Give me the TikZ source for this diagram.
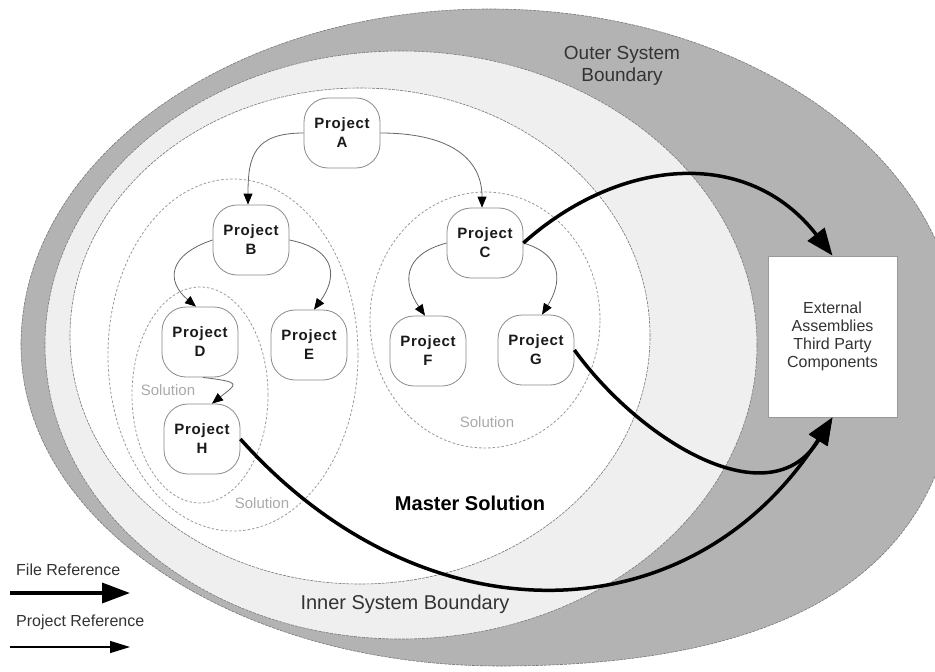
\documentclass[tikz,border=0pt]{standalone}
\usepackage{fontspec}
\setmainfont{Liberation Sans}
\newfontfamily\projfont{Liberation Sans}[LetterSpace=5]
\usetikzlibrary{arrows.meta}
\definecolor{outergray}{HTML}{B3B3B3}
\definecolor{innergray}{HTML}{EFEFEF}
\definecolor{rimline}{HTML}{777777}
\definecolor{solline}{HTML}{9A9A9A}
\definecolor{soltext}{HTML}{AAAAAA}
\definecolor{projline}{HTML}{8A8A8A}
\definecolor{labeltext}{HTML}{333333}
\begin{document}
\begin{tikzpicture}[x=1pt,y=1pt,
  rim/.style={draw=rimline, line width=0.6pt, dash pattern=on 3pt off 1pt},
  solring/.style={draw=solline, line width=0.8pt, dash pattern=on 2.5pt off 2pt},
  project/.style={draw=projline, fill=white, line width=0.8pt, rounded corners=24pt,
    minimum width=76pt, minimum height=70pt, align=center, inner sep=0pt, text=black!90,
    font=\projfont\bfseries\fontsize{15}{19}\selectfont},
  projref/.style={draw=black!60, line width=0.8pt, -{Triangle[length=11pt,width=9pt,color=black]}},
  fileref/.style={draw=black, line width=3.5pt, -{Triangle[length=27pt,width=21pt]}},
  soltag/.style={text=soltext, inner sep=0pt, font=\fontsize{15}{18}\selectfont},
  boundtag/.style={text=labeltext, align=center, inner sep=0pt, font=\fontsize{19}{22}\selectfont},
  legendtag/.style={anchor=west, text=labeltext, inner sep=0pt, font=\fontsize{16}{18}\selectfont},
]
\useasboundingbox (0,0) rectangle (935,-672);
\clip (0,0) rectangle (935,-672);
\fill[white] (0,0) rectangle (935,-672);

% outer system boundary: upper half elliptic, lower right a little squarer
\draw[rim, fill=outergray] (21,-345)
  arc[start angle=180, end angle=0, x radius=469, y radius=336]
  .. controls (959,-560) and (808,-666) .. (500,-666)
  arc[start angle=270, end angle=180, x radius=479, y radius=321] -- cycle;
% inner system boundary and the master solution
\draw[rim, fill=innergray] (401,-345) ellipse [x radius=356, y radius=294];
\draw[rim, fill=white] (360,-336) ellipse [x radius=290, y radius=248];

% solutions
\draw[solring] (233,-355) ellipse [x radius=125, y radius=176];
\draw[solring] (200,-395) ellipse [x radius=68, y radius=108];
\draw[solring] (485,-320) ellipse [x radius=115, y radius=128];

% labels
\node[boundtag] (outerlbl) at (622,-66) {Outer System\\Boundary};
\node[boundtag, font=\fontsize{20}{22}\selectfont] (innerlbl) at (405,-604) {Inner System Boundary};
\node[inner sep=0pt, font=\bfseries\fontsize{20}{22}\selectfont] (masterlbl) at (470,-503) {Master Solution};
\node[soltag] (solbig) at (262,-503) {Solution};
\node[soltag] (solsmall) at (168,-390) {Solution};
\node[soltag] (solright) at (487,-422) {Solution};

% projects
\node[project] (A) at (342,-133) {Project\\A};
\node[project] (B) at (251,-240) {Project\\B};
\node[project] (C) at (485,-243) {Project\\C};
\node[project] (D) at (200,-342) {Project\\D};
\node[project] (E) at (309,-345) {Project\\E};
\node[project] (F) at (428,-351) {Project\\F};
\node[project] (G) at (536,-350) {Project\\G};
\node[project] (H) at (202,-439) {Project\\H};

% external assemblies
\node[draw=black!40, fill=white, line width=0.8pt, minimum width=129pt, minimum height=161pt,
  align=center, text=labeltext, font=\fontsize{16}{18}\selectfont] (ext) at (832.5,-336.5)
  {External\\Assemblies\\Third Party\\Components};

% project references
\draw[projref] (A.west) .. controls +(-50,0) and +(0,48) .. ([xshift=-3pt]B.north);
\draw[projref] (A.east) .. controls +(65,0) and +(0,52) .. ([xshift=-3pt]C.north);
\draw[projref] (B.west) .. controls +(-45,-15) and +(-30,25) .. ([xshift=-4pt]D.north);
\draw[projref] (B.east) .. controls +(50,-10) and +(22,30) .. ([xshift=5pt]E.north);
\draw[projref] (C.west) .. controls +(-45,-12) and +(-22,32) .. ([xshift=-3pt]F.north);
\draw[projref] (C.east) .. controls +(40,-12) and +(20,32) .. ([xshift=6pt]G.north);
\draw[projref] ([xshift=3pt]D.south) .. controls +(40,-5) and +(25,20) .. ([xshift=10pt]H.north);

% file references
\draw[fileref] (C.east) .. controls +(95,85) and +(-85,110) .. (ext.north);
\draw[fileref] (G.east) .. controls +(65,-90) and +(-63,-103) .. (ext.south);
\draw[fileref] (H.east) .. controls +(180,-202) and +(-143,-223) .. (ext.south);

% legend
\node[legendtag] (legfile) at (16,-570) {File Reference};
\node[legendtag] (legproj) at (16,-622) {Project Reference};
\coordinate (lf0) at (10,-593);
\coordinate (lf1) at (130,-593);
\coordinate (lp0) at (10,-647);
\coordinate (lp1) at (130,-647);
\draw[fileref, -{Triangle[length=28pt,width=20pt]}] (lf0) -- (lf1);
\draw[draw=black, line width=1.3pt, -{Triangle[length=20pt,width=12pt]}] (lp0) -- (lp1);
\end{tikzpicture}
\end{document}
